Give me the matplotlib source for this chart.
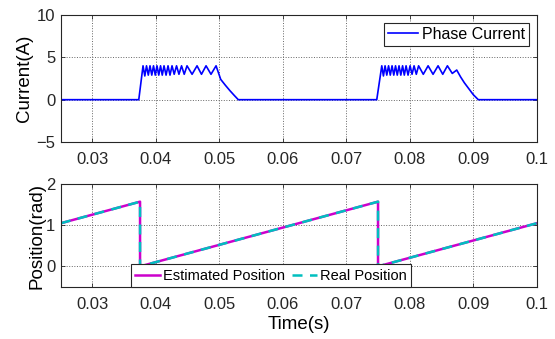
import matplotlib
matplotlib.use('Agg')
import matplotlib.pyplot as plt

plt.rcParams['font.family'] = ['Liberation Sans', 'DejaVu Sans']

# Phase current (A), two conduction pulses
current_t = [0.025, 0.0373, 0.03797, 0.03825, 0.03852, 0.0388, 0.03907, 0.03935, 0.03962,
             0.0399, 0.04017, 0.04045, 0.04073, 0.041, 0.04128, 0.0416, 0.04191, 0.04222,
             0.04254, 0.04288, 0.04325, 0.04363, 0.04404, 0.04446, 0.0449, 0.0457, 0.04648,
             0.04718, 0.0479, 0.04868, 0.04948, 0.05021, 0.05095, 0.05167, 0.05235, 0.05298,
             0.0748, 0.07559, 0.07585, 0.07611, 0.07638, 0.07666, 0.07693, 0.07721, 0.07748,
             0.07776, 0.07803, 0.07831, 0.07859, 0.07887, 0.07914, 0.07942, 0.07973, 0.08005,
             0.08036, 0.08068, 0.08103, 0.08139, 0.08213, 0.08289, 0.08367, 0.08446, 0.0852,
             0.08593, 0.0867, 0.0874, 0.0880, 0.0886, 0.0893, 0.0900, 0.0908, 0.1]
current_a = [0, 0, 4.0, 2.8, 4.0, 2.9, 4.0, 2.9, 4.0,
             2.9, 4.0, 2.9, 4.0, 2.9, 4.0, 2.9, 4.0, 2.9,
             4.0, 3.0, 4.0, 3.0, 4.0, 3.0, 4.0, 3.0, 4.0,
             3.0, 4.0, 3.0, 4.0, 2.4, 1.7, 1.06, 0.5, 0,
             0, 4.0, 2.8, 4.0, 2.9, 4.0, 2.9, 4.0, 2.9,
             4.0, 2.9, 4.0, 2.9, 4.0, 2.9, 4.0, 2.9, 4.0,
             3.0, 4.0, 3.0, 4.0, 3.0, 4.0, 3.0, 4.0, 3.0,
             4.0, 3.1, 3.5, 2.7, 2.0, 1.3, 0.6, 0, 0]

# Rotor position (rad)
pos_t = [0.025, 0.0375, 0.0375, 0.075, 0.075, 0.1]
est_pos = [1.047, 1.571, 0.0, 1.571, 0.0, 1.047]
real_pos = [1.047, 1.571, 0.0, 1.571, 0.0, 1.047]

x_ticks = [0.03, 0.04, 0.05, 0.06, 0.07, 0.08, 0.09, 0.1]
x_labels = ['0.03', '0.04', '0.05', '0.06', '0.07', '0.08', '0.09', '0.1']

fig = plt.figure(figsize=(5.55, 3.39), dpi=100)
ax1 = fig.add_axes([0.1094, 0.581, 0.8576, 0.3748])
ax2 = fig.add_axes([0.1094, 0.1534, 0.8576, 0.3038])


def style(ax):
    ax.set_xlim(0.025, 0.1)
    ax.set_xticks(x_ticks)
    ax.set_xticklabels(x_labels)
    ax.tick_params(direction='in', top=True, right=True, labelsize=12,
                   length=3, width=0.6, colors='#262626')
    ax.tick_params(axis='x', pad=7)
    ax.tick_params(axis='y', pad=4)
    ax.grid(True, linestyle=':', color='#666666', linewidth=0.7)
    for s in ax.spines.values():
        s.set_color('#262626')
        s.set_linewidth(0.8)


ax1.plot(current_t, current_a, color='#0000ff', linewidth=1.2, label='Phase Current')
style(ax1)
ax1.set_ylim(-5, 10)
ax1.set_yticks([-5, 0, 5, 10])
ax1.set_ylabel('Current(A)', fontsize=13.5, labelpad=2)
leg1 = ax1.legend(loc='upper right', fontsize=11.5, fancybox=False, framealpha=1,
                  edgecolor='#262626', borderpad=0.25, handlelength=1.9,
                  handletextpad=0.2, borderaxespad=0.5)
leg1.get_frame().set_linewidth(0.8)

ax2.plot(pos_t, est_pos, color='#cc00cc', linewidth=1.8, label='Estimated Position')
ax2.plot(pos_t, real_pos, color='#00bfbf', linewidth=1.8, linestyle=(0, (4, 3)),
         label='Real Position')
style(ax2)
ax2.set_ylim(-0.5, 2)
ax2.set_yticks([0, 1, 2])
ax2.set_ylabel('Position(rad)', fontsize=13.5, labelpad=0)
ax2.set_xlabel('Time(s)', fontsize=13.5, labelpad=3)
leg2 = ax2.legend(loc='lower center', bbox_to_anchor=(0.442, 0.0), ncol=2, fontsize=10.5,
                  fancybox=False, framealpha=1, edgecolor='#262626', borderpad=0.3,
                  handlelength=1.7, handletextpad=0.2, columnspacing=0.5, borderaxespad=0)
leg2.get_frame().set_linewidth(0.8)

fig.savefig('out.png', dpi=100)
